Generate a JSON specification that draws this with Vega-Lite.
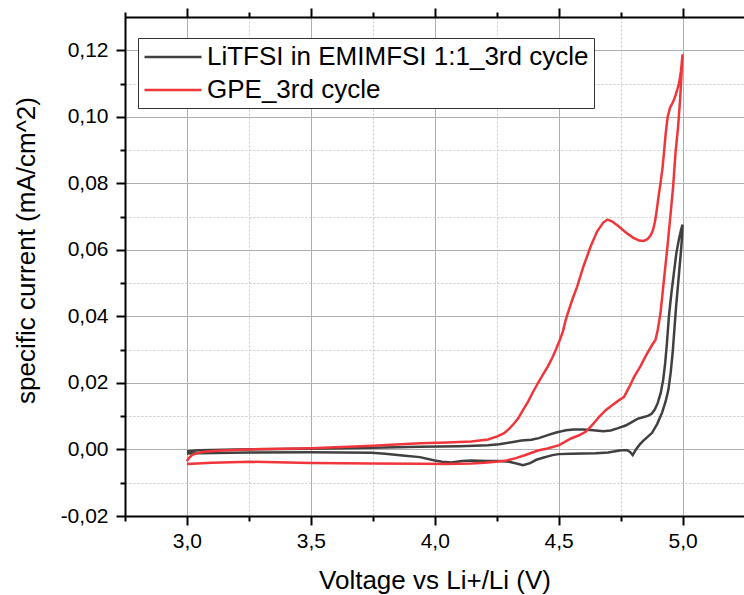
{
  "$schema": "https://vega.github.io/schema/vega-lite/v6.json",
  "width": 619,
  "height": 499,
  "autosize": {"type": "none"},
  "padding": {"left": 125, "top": 17, "right": 0, "bottom": 79},
  "background": "white",
  "config": {
    "view": {"stroke": null},
    "font": "Liberation Sans",
    "axis": {
      "labelFont": "Liberation Sans",
      "titleFont": "Liberation Sans",
      "labelFontSize": 21,
      "titleFontSize": 26,
      "titleFontWeight": "normal",
      "labelColor": "black",
      "titleColor": "black",
      "domainColor": "black",
      "domainWidth": 2,
      "tickColor": "black",
      "tickWidth": 2,
      "gridColor": "#b0b0b0",
      "gridWidth": 1
    }
  },
  "datasets": {
    "cv": [
      {"s": "LiTFSI in EMIMFSI 1:1_3rd cycle", "o": 1, "v": 3.00, "i": -0.0005},
      {"s": "LiTFSI in EMIMFSI 1:1_3rd cycle", "o": 2, "v": 3.05, "i": -0.0002},
      {"s": "LiTFSI in EMIMFSI 1:1_3rd cycle", "o": 3, "v": 3.20, "i": 0.0000},
      {"s": "LiTFSI in EMIMFSI 1:1_3rd cycle", "o": 4, "v": 3.50, "i": 0.0002},
      {"s": "LiTFSI in EMIMFSI 1:1_3rd cycle", "o": 5, "v": 3.75, "i": 0.0005},
      {"s": "LiTFSI in EMIMFSI 1:1_3rd cycle", "o": 6, "v": 3.94, "i": 0.0008},
      {"s": "LiTFSI in EMIMFSI 1:1_3rd cycle", "o": 7, "v": 4.10, "i": 0.0010},
      {"s": "LiTFSI in EMIMFSI 1:1_3rd cycle", "o": 8, "v": 4.215, "i": 0.0013},
      {"s": "LiTFSI in EMIMFSI 1:1_3rd cycle", "o": 9, "v": 4.26, "i": 0.0016},
      {"s": "LiTFSI in EMIMFSI 1:1_3rd cycle", "o": 10, "v": 4.31, "i": 0.0022},
      {"s": "LiTFSI in EMIMFSI 1:1_3rd cycle", "o": 11, "v": 4.35, "i": 0.0027},
      {"s": "LiTFSI in EMIMFSI 1:1_3rd cycle", "o": 12, "v": 4.39, "i": 0.0029},
      {"s": "LiTFSI in EMIMFSI 1:1_3rd cycle", "o": 13, "v": 4.42, "i": 0.0034},
      {"s": "LiTFSI in EMIMFSI 1:1_3rd cycle", "o": 14, "v": 4.456, "i": 0.0043},
      {"s": "LiTFSI in EMIMFSI 1:1_3rd cycle", "o": 15, "v": 4.49, "i": 0.0051},
      {"s": "LiTFSI in EMIMFSI 1:1_3rd cycle", "o": 16, "v": 4.53, "i": 0.0058},
      {"s": "LiTFSI in EMIMFSI 1:1_3rd cycle", "o": 17, "v": 4.56, "i": 0.0060},
      {"s": "LiTFSI in EMIMFSI 1:1_3rd cycle", "o": 18, "v": 4.60, "i": 0.0060},
      {"s": "LiTFSI in EMIMFSI 1:1_3rd cycle", "o": 19, "v": 4.64, "i": 0.0058},
      {"s": "LiTFSI in EMIMFSI 1:1_3rd cycle", "o": 20, "v": 4.68, "i": 0.0055},
      {"s": "LiTFSI in EMIMFSI 1:1_3rd cycle", "o": 21, "v": 4.71, "i": 0.0057},
      {"s": "LiTFSI in EMIMFSI 1:1_3rd cycle", "o": 22, "v": 4.74, "i": 0.0064},
      {"s": "LiTFSI in EMIMFSI 1:1_3rd cycle", "o": 23, "v": 4.77, "i": 0.0072},
      {"s": "LiTFSI in EMIMFSI 1:1_3rd cycle", "o": 24, "v": 4.79, "i": 0.0080},
      {"s": "LiTFSI in EMIMFSI 1:1_3rd cycle", "o": 25, "v": 4.818, "i": 0.0092},
      {"s": "LiTFSI in EMIMFSI 1:1_3rd cycle", "o": 26, "v": 4.84, "i": 0.0097},
      {"s": "LiTFSI in EMIMFSI 1:1_3rd cycle", "o": 27, "v": 4.86, "i": 0.0101},
      {"s": "LiTFSI in EMIMFSI 1:1_3rd cycle", "o": 28, "v": 4.875, "i": 0.0107},
      {"s": "LiTFSI in EMIMFSI 1:1_3rd cycle", "o": 29, "v": 4.888, "i": 0.0120},
      {"s": "LiTFSI in EMIMFSI 1:1_3rd cycle", "o": 30, "v": 4.90, "i": 0.0140},
      {"s": "LiTFSI in EMIMFSI 1:1_3rd cycle", "o": 31, "v": 4.912, "i": 0.0170},
      {"s": "LiTFSI in EMIMFSI 1:1_3rd cycle", "o": 32, "v": 4.922, "i": 0.0210},
      {"s": "LiTFSI in EMIMFSI 1:1_3rd cycle", "o": 33, "v": 4.93, "i": 0.0260},
      {"s": "LiTFSI in EMIMFSI 1:1_3rd cycle", "o": 34, "v": 4.937, "i": 0.0320},
      {"s": "LiTFSI in EMIMFSI 1:1_3rd cycle", "o": 35, "v": 4.945, "i": 0.0400},
      {"s": "LiTFSI in EMIMFSI 1:1_3rd cycle", "o": 36, "v": 4.955, "i": 0.0470},
      {"s": "LiTFSI in EMIMFSI 1:1_3rd cycle", "o": 37, "v": 4.965, "i": 0.0530},
      {"s": "LiTFSI in EMIMFSI 1:1_3rd cycle", "o": 38, "v": 4.975, "i": 0.0590},
      {"s": "LiTFSI in EMIMFSI 1:1_3rd cycle", "o": 39, "v": 4.985, "i": 0.0630},
      {"s": "LiTFSI in EMIMFSI 1:1_3rd cycle", "o": 40, "v": 4.994, "i": 0.0660},
      {"s": "LiTFSI in EMIMFSI 1:1_3rd cycle", "o": 41, "v": 5.00, "i": 0.0676},
      {"s": "LiTFSI in EMIMFSI 1:1_3rd cycle", "o": 42, "v": 4.998, "i": 0.0640},
      {"s": "LiTFSI in EMIMFSI 1:1_3rd cycle", "o": 43, "v": 4.993, "i": 0.0590},
      {"s": "LiTFSI in EMIMFSI 1:1_3rd cycle", "o": 44, "v": 4.987, "i": 0.0540},
      {"s": "LiTFSI in EMIMFSI 1:1_3rd cycle", "o": 45, "v": 4.98, "i": 0.0480},
      {"s": "LiTFSI in EMIMFSI 1:1_3rd cycle", "o": 46, "v": 4.974, "i": 0.0430},
      {"s": "LiTFSI in EMIMFSI 1:1_3rd cycle", "o": 47, "v": 4.967, "i": 0.0360},
      {"s": "LiTFSI in EMIMFSI 1:1_3rd cycle", "o": 48, "v": 4.96, "i": 0.0290},
      {"s": "LiTFSI in EMIMFSI 1:1_3rd cycle", "o": 49, "v": 4.952, "i": 0.0230},
      {"s": "LiTFSI in EMIMFSI 1:1_3rd cycle", "o": 50, "v": 4.943, "i": 0.0180},
      {"s": "LiTFSI in EMIMFSI 1:1_3rd cycle", "o": 51, "v": 4.932, "i": 0.0145},
      {"s": "LiTFSI in EMIMFSI 1:1_3rd cycle", "o": 52, "v": 4.917, "i": 0.0110},
      {"s": "LiTFSI in EMIMFSI 1:1_3rd cycle", "o": 53, "v": 4.898, "i": 0.0077},
      {"s": "LiTFSI in EMIMFSI 1:1_3rd cycle", "o": 54, "v": 4.877, "i": 0.0050},
      {"s": "LiTFSI in EMIMFSI 1:1_3rd cycle", "o": 55, "v": 4.858, "i": 0.0037},
      {"s": "LiTFSI in EMIMFSI 1:1_3rd cycle", "o": 56, "v": 4.84, "i": 0.0025},
      {"s": "LiTFSI in EMIMFSI 1:1_3rd cycle", "o": 57, "v": 4.825, "i": 0.0013},
      {"s": "LiTFSI in EMIMFSI 1:1_3rd cycle", "o": 58, "v": 4.812, "i": 0.0000},
      {"s": "LiTFSI in EMIMFSI 1:1_3rd cycle", "o": 59, "v": 4.799, "i": -0.0017},
      {"s": "LiTFSI in EMIMFSI 1:1_3rd cycle", "o": 60, "v": 4.789, "i": -0.0008},
      {"s": "LiTFSI in EMIMFSI 1:1_3rd cycle", "o": 61, "v": 4.777, "i": -0.0002},
      {"s": "LiTFSI in EMIMFSI 1:1_3rd cycle", "o": 62, "v": 4.76, "i": -0.0002},
      {"s": "LiTFSI in EMIMFSI 1:1_3rd cycle", "o": 63, "v": 4.74, "i": -0.0004},
      {"s": "LiTFSI in EMIMFSI 1:1_3rd cycle", "o": 64, "v": 4.70, "i": -0.0009},
      {"s": "LiTFSI in EMIMFSI 1:1_3rd cycle", "o": 65, "v": 4.65, "i": -0.0011},
      {"s": "LiTFSI in EMIMFSI 1:1_3rd cycle", "o": 66, "v": 4.60, "i": -0.0012},
      {"s": "LiTFSI in EMIMFSI 1:1_3rd cycle", "o": 67, "v": 4.55, "i": -0.0013},
      {"s": "LiTFSI in EMIMFSI 1:1_3rd cycle", "o": 68, "v": 4.50, "i": -0.0014},
      {"s": "LiTFSI in EMIMFSI 1:1_3rd cycle", "o": 69, "v": 4.475, "i": -0.0017},
      {"s": "LiTFSI in EMIMFSI 1:1_3rd cycle", "o": 70, "v": 4.44, "i": -0.0024},
      {"s": "LiTFSI in EMIMFSI 1:1_3rd cycle", "o": 71, "v": 4.41, "i": -0.0031},
      {"s": "LiTFSI in EMIMFSI 1:1_3rd cycle", "o": 72, "v": 4.385, "i": -0.0041},
      {"s": "LiTFSI in EMIMFSI 1:1_3rd cycle", "o": 73, "v": 4.356, "i": -0.0047},
      {"s": "LiTFSI in EMIMFSI 1:1_3rd cycle", "o": 74, "v": 4.33, "i": -0.0042},
      {"s": "LiTFSI in EMIMFSI 1:1_3rd cycle", "o": 75, "v": 4.30, "i": -0.0037},
      {"s": "LiTFSI in EMIMFSI 1:1_3rd cycle", "o": 76, "v": 4.26, "i": -0.0035},
      {"s": "LiTFSI in EMIMFSI 1:1_3rd cycle", "o": 77, "v": 4.215, "i": -0.0035},
      {"s": "LiTFSI in EMIMFSI 1:1_3rd cycle", "o": 78, "v": 4.175, "i": -0.0034},
      {"s": "LiTFSI in EMIMFSI 1:1_3rd cycle", "o": 79, "v": 4.148, "i": -0.0033},
      {"s": "LiTFSI in EMIMFSI 1:1_3rd cycle", "o": 80, "v": 4.11, "i": -0.0035},
      {"s": "LiTFSI in EMIMFSI 1:1_3rd cycle", "o": 81, "v": 4.067, "i": -0.0039},
      {"s": "LiTFSI in EMIMFSI 1:1_3rd cycle", "o": 82, "v": 4.03, "i": -0.0037},
      {"s": "LiTFSI in EMIMFSI 1:1_3rd cycle", "o": 83, "v": 4.00, "i": -0.0033},
      {"s": "LiTFSI in EMIMFSI 1:1_3rd cycle", "o": 84, "v": 3.94, "i": -0.0023},
      {"s": "LiTFSI in EMIMFSI 1:1_3rd cycle", "o": 85, "v": 3.88, "i": -0.0019},
      {"s": "LiTFSI in EMIMFSI 1:1_3rd cycle", "o": 86, "v": 3.80, "i": -0.0013},
      {"s": "LiTFSI in EMIMFSI 1:1_3rd cycle", "o": 87, "v": 3.746, "i": -0.0010},
      {"s": "LiTFSI in EMIMFSI 1:1_3rd cycle", "o": 88, "v": 3.50, "i": -0.0008},
      {"s": "LiTFSI in EMIMFSI 1:1_3rd cycle", "o": 89, "v": 3.25, "i": -0.0009},
      {"s": "LiTFSI in EMIMFSI 1:1_3rd cycle", "o": 90, "v": 3.05, "i": -0.0011},
      {"s": "LiTFSI in EMIMFSI 1:1_3rd cycle", "o": 91, "v": 3.00, "i": -0.0012},
      {"s": "GPE_3rd cycle", "o": 1, "v": 3.00, "i": -0.0035},
      {"s": "GPE_3rd cycle", "o": 2, "v": 3.008, "i": -0.0026},
      {"s": "GPE_3rd cycle", "o": 3, "v": 3.02, "i": -0.0017},
      {"s": "GPE_3rd cycle", "o": 4, "v": 3.04, "i": -0.0011},
      {"s": "GPE_3rd cycle", "o": 5, "v": 3.07, "i": -0.0007},
      {"s": "GPE_3rd cycle", "o": 6, "v": 3.12, "i": -0.0004},
      {"s": "GPE_3rd cycle", "o": 7, "v": 3.25, "i": 0.0000},
      {"s": "GPE_3rd cycle", "o": 8, "v": 3.50, "i": 0.0004},
      {"s": "GPE_3rd cycle", "o": 9, "v": 3.75, "i": 0.0011},
      {"s": "GPE_3rd cycle", "o": 10, "v": 3.94, "i": 0.0019},
      {"s": "GPE_3rd cycle", "o": 11, "v": 4.05, "i": 0.0021},
      {"s": "GPE_3rd cycle", "o": 12, "v": 4.148, "i": 0.0024},
      {"s": "GPE_3rd cycle", "o": 13, "v": 4.215, "i": 0.0030},
      {"s": "GPE_3rd cycle", "o": 14, "v": 4.255, "i": 0.0040},
      {"s": "GPE_3rd cycle", "o": 15, "v": 4.28, "i": 0.0049},
      {"s": "GPE_3rd cycle", "o": 16, "v": 4.30, "i": 0.0062},
      {"s": "GPE_3rd cycle", "o": 17, "v": 4.32, "i": 0.0078},
      {"s": "GPE_3rd cycle", "o": 18, "v": 4.336, "i": 0.0093},
      {"s": "GPE_3rd cycle", "o": 19, "v": 4.356, "i": 0.0118},
      {"s": "GPE_3rd cycle", "o": 20, "v": 4.376, "i": 0.0143},
      {"s": "GPE_3rd cycle", "o": 21, "v": 4.396, "i": 0.0172},
      {"s": "GPE_3rd cycle", "o": 22, "v": 4.416, "i": 0.0199},
      {"s": "GPE_3rd cycle", "o": 23, "v": 4.436, "i": 0.0224},
      {"s": "GPE_3rd cycle", "o": 24, "v": 4.456, "i": 0.0249},
      {"s": "GPE_3rd cycle", "o": 25, "v": 4.474, "i": 0.0275},
      {"s": "GPE_3rd cycle", "o": 26, "v": 4.49, "i": 0.0302},
      {"s": "GPE_3rd cycle", "o": 27, "v": 4.505, "i": 0.0330},
      {"s": "GPE_3rd cycle", "o": 28, "v": 4.517, "i": 0.0354},
      {"s": "GPE_3rd cycle", "o": 29, "v": 4.527, "i": 0.0385},
      {"s": "GPE_3rd cycle", "o": 30, "v": 4.537, "i": 0.0410},
      {"s": "GPE_3rd cycle", "o": 31, "v": 4.555, "i": 0.0450},
      {"s": "GPE_3rd cycle", "o": 32, "v": 4.575, "i": 0.0490},
      {"s": "GPE_3rd cycle", "o": 33, "v": 4.60, "i": 0.0550},
      {"s": "GPE_3rd cycle", "o": 34, "v": 4.629, "i": 0.0610},
      {"s": "GPE_3rd cycle", "o": 35, "v": 4.655, "i": 0.0655},
      {"s": "GPE_3rd cycle", "o": 36, "v": 4.68, "i": 0.0682},
      {"s": "GPE_3rd cycle", "o": 37, "v": 4.697, "i": 0.0691},
      {"s": "GPE_3rd cycle", "o": 38, "v": 4.715, "i": 0.0686},
      {"s": "GPE_3rd cycle", "o": 39, "v": 4.743, "i": 0.0670},
      {"s": "GPE_3rd cycle", "o": 40, "v": 4.77, "i": 0.0653},
      {"s": "GPE_3rd cycle", "o": 41, "v": 4.80, "i": 0.0637},
      {"s": "GPE_3rd cycle", "o": 42, "v": 4.825, "i": 0.0628},
      {"s": "GPE_3rd cycle", "o": 43, "v": 4.843, "i": 0.0627},
      {"s": "GPE_3rd cycle", "o": 44, "v": 4.858, "i": 0.0632},
      {"s": "GPE_3rd cycle", "o": 45, "v": 4.871, "i": 0.0643},
      {"s": "GPE_3rd cycle", "o": 46, "v": 4.881, "i": 0.0660},
      {"s": "GPE_3rd cycle", "o": 47, "v": 4.889, "i": 0.0685},
      {"s": "GPE_3rd cycle", "o": 48, "v": 4.896, "i": 0.0720},
      {"s": "GPE_3rd cycle", "o": 49, "v": 4.903, "i": 0.0760},
      {"s": "GPE_3rd cycle", "o": 50, "v": 4.911, "i": 0.0800},
      {"s": "GPE_3rd cycle", "o": 51, "v": 4.919, "i": 0.0845},
      {"s": "GPE_3rd cycle", "o": 52, "v": 4.926, "i": 0.0900},
      {"s": "GPE_3rd cycle", "o": 53, "v": 4.932, "i": 0.0950},
      {"s": "GPE_3rd cycle", "o": 54, "v": 4.94, "i": 0.1000},
      {"s": "GPE_3rd cycle", "o": 55, "v": 4.95, "i": 0.1028},
      {"s": "GPE_3rd cycle", "o": 56, "v": 4.962, "i": 0.1045},
      {"s": "GPE_3rd cycle", "o": 57, "v": 4.972, "i": 0.1065},
      {"s": "GPE_3rd cycle", "o": 58, "v": 4.98, "i": 0.1085},
      {"s": "GPE_3rd cycle", "o": 59, "v": 4.987, "i": 0.1105},
      {"s": "GPE_3rd cycle", "o": 60, "v": 4.994, "i": 0.1140},
      {"s": "GPE_3rd cycle", "o": 61, "v": 5.00, "i": 0.1188},
      {"s": "GPE_3rd cycle", "o": 62, "v": 4.996, "i": 0.1130},
      {"s": "GPE_3rd cycle", "o": 63, "v": 4.99, "i": 0.1050},
      {"s": "GPE_3rd cycle", "o": 64, "v": 4.982, "i": 0.0970},
      {"s": "GPE_3rd cycle", "o": 65, "v": 4.972, "i": 0.0895},
      {"s": "GPE_3rd cycle", "o": 66, "v": 4.962, "i": 0.0790},
      {"s": "GPE_3rd cycle", "o": 67, "v": 4.952, "i": 0.0710},
      {"s": "GPE_3rd cycle", "o": 68, "v": 4.939, "i": 0.0610},
      {"s": "GPE_3rd cycle", "o": 69, "v": 4.925, "i": 0.0510},
      {"s": "GPE_3rd cycle", "o": 70, "v": 4.911, "i": 0.0410},
      {"s": "GPE_3rd cycle", "o": 71, "v": 4.90, "i": 0.0360},
      {"s": "GPE_3rd cycle", "o": 72, "v": 4.891, "i": 0.0330},
      {"s": "GPE_3rd cycle", "o": 73, "v": 4.877, "i": 0.0314},
      {"s": "GPE_3rd cycle", "o": 74, "v": 4.862, "i": 0.0295},
      {"s": "GPE_3rd cycle", "o": 75, "v": 4.85, "i": 0.0279},
      {"s": "GPE_3rd cycle", "o": 76, "v": 4.83, "i": 0.0250},
      {"s": "GPE_3rd cycle", "o": 77, "v": 4.805, "i": 0.0219},
      {"s": "GPE_3rd cycle", "o": 78, "v": 4.785, "i": 0.0188},
      {"s": "GPE_3rd cycle", "o": 79, "v": 4.764, "i": 0.0158},
      {"s": "GPE_3rd cycle", "o": 80, "v": 4.74, "i": 0.0146},
      {"s": "GPE_3rd cycle", "o": 81, "v": 4.716, "i": 0.0133},
      {"s": "GPE_3rd cycle", "o": 82, "v": 4.69, "i": 0.0118},
      {"s": "GPE_3rd cycle", "o": 83, "v": 4.663, "i": 0.0098},
      {"s": "GPE_3rd cycle", "o": 84, "v": 4.635, "i": 0.0073},
      {"s": "GPE_3rd cycle", "o": 85, "v": 4.609, "i": 0.0053},
      {"s": "GPE_3rd cycle", "o": 86, "v": 4.58, "i": 0.0042},
      {"s": "GPE_3rd cycle", "o": 87, "v": 4.55, "i": 0.0033},
      {"s": "GPE_3rd cycle", "o": 88, "v": 4.502, "i": 0.0013},
      {"s": "GPE_3rd cycle", "o": 89, "v": 4.455, "i": 0.0003},
      {"s": "GPE_3rd cycle", "o": 90, "v": 4.416, "i": -0.0003},
      {"s": "GPE_3rd cycle", "o": 91, "v": 4.394, "i": -0.0009},
      {"s": "GPE_3rd cycle", "o": 92, "v": 4.36, "i": -0.0018},
      {"s": "GPE_3rd cycle", "o": 93, "v": 4.327, "i": -0.0026},
      {"s": "GPE_3rd cycle", "o": 94, "v": 4.29, "i": -0.0033},
      {"s": "GPE_3rd cycle", "o": 95, "v": 4.247, "i": -0.0037},
      {"s": "GPE_3rd cycle", "o": 96, "v": 4.20, "i": -0.0040},
      {"s": "GPE_3rd cycle", "o": 97, "v": 4.148, "i": -0.0042},
      {"s": "GPE_3rd cycle", "o": 98, "v": 4.05, "i": -0.0044},
      {"s": "GPE_3rd cycle", "o": 99, "v": 3.938, "i": -0.0043},
      {"s": "GPE_3rd cycle", "o": 100, "v": 3.745, "i": -0.0042},
      {"s": "GPE_3rd cycle", "o": 101, "v": 3.50, "i": -0.0041},
      {"s": "GPE_3rd cycle", "o": 102, "v": 3.255, "i": -0.0037},
      {"s": "GPE_3rd cycle", "o": 103, "v": 3.10, "i": -0.0040},
      {"s": "GPE_3rd cycle", "o": 104, "v": 3.00, "i": -0.0044}
    ]
  },
  "data": {"name": "cv"},
  "resolve": {"axis": {"x": "independent", "y": "independent"}},
  "layer": [
    {
      "mark": {"type": "line", "strokeOpacity": 0},
      "encoding": {
        "x": {"field": "v", "type": "quantitative", "scale": {"domain": [2.75, 5.248], "nice": false, "zero": false},
          "axis": {"orient": "bottom", "values": [2.75, 3.25, 3.75, 4.25, 4.75], "labels": false, "tickSize": 5, "domain": false, "grid": true, "gridColor": "#c8c8c8", "gridDash": [2, 2], "title": null}},
        "y": {"field": "i", "type": "quantitative", "scale": {"domain": [-0.02, 0.13], "nice": false, "zero": false},
          "axis": {"orient": "left", "values": [-0.01, 0.01, 0.03, 0.05, 0.07, 0.09, 0.11], "labels": false, "tickSize": 5, "domain": false, "grid": true, "gridColor": "#c8c8c8", "gridDash": [2, 2], "title": null}},
        "detail": {"field": "s"},
        "order": {"field": "o"}
      }
    },
    {
      "mark": {"type": "line", "strokeOpacity": 0},
      "encoding": {
        "x": {"field": "v", "type": "quantitative", "scale": {"domain": [2.75, 5.248], "nice": false, "zero": false},
          "axis": {"orient": "top", "values": [2.75, 3.25, 3.75, 4.25, 4.75], "labels": false, "tickSize": 5, "domain": false, "grid": false, "title": null}},
        "y": {"field": "i", "type": "quantitative", "axis": null},
        "detail": {"field": "s"},
        "order": {"field": "o"}
      }
    },
    {
      "mark": {"type": "line", "strokeOpacity": 0},
      "encoding": {
        "x": {"field": "v", "type": "quantitative", "scale": {"domain": [2.75, 5.248], "nice": false, "zero": false},
          "axis": {"orient": "top", "values": [3, 3.5, 4, 4.5, 5], "labels": false, "tickSize": 9, "domain": true, "grid": false, "title": null}},
        "y": {"field": "i", "type": "quantitative", "axis": null},
        "detail": {"field": "s"},
        "order": {"field": "o"}
      }
    },
    {
      "mark": {"type": "line", "strokeWidth": 2.5},
      "encoding": {
        "x": {"field": "v", "type": "quantitative", "scale": {"domain": [2.75, 5.248], "nice": false, "zero": false},
          "axis": {"orient": "bottom", "values": [3, 3.5, 4, 4.5, 5], "tickSize": 9, "labelPadding": 5, "grid": true,
            "labelExpr": "replace(format(datum.value, '.1f'), '.', ',')",
            "title": "Voltage vs Li+/Li (V)", "titleBaseline": "alphabetic", "titleY": 72}},
        "y": {"field": "i", "type": "quantitative", "scale": {"domain": [-0.02, 0.13], "nice": false, "zero": false},
          "axis": {"orient": "left", "values": [-0.02, 0, 0.02, 0.04, 0.06, 0.08, 0.1, 0.12], "tickSize": 9, "labelPadding": 8, "grid": true,
            "labelExpr": "replace(replace(format(datum.value, '.2f'), '.', ','), '\u2212', '-')",
            "title": "specific current (mA/cm^2)", "titleBaseline": "middle", "titleX": -99, "titleY": 233, "titleAngle": -90}},
        "color": {"field": "s", "type": "nominal",
          "scale": {"domain": ["LiTFSI in EMIMFSI 1:1_3rd cycle", "GPE_3rd cycle"], "range": ["#404040", "#f0363b"]},
          "legend": {"orient": "none", "legendX": 13, "legendY": 21, "title": null, "symbolType": "M-1,0H3.56", "symbolSize": 625, "symbolStrokeWidth": 2.5,
            "labelFont": "Liberation Sans", "labelFontSize": 26, "labelColor": "black", "labelLimit": 600, "labelOffset": 36,
            "strokeColor": "#333333", "fillColor": "white", "padding": 5, "rowPadding": 6}},
        "order": {"field": "o"}
      }
    }
  ]
}
